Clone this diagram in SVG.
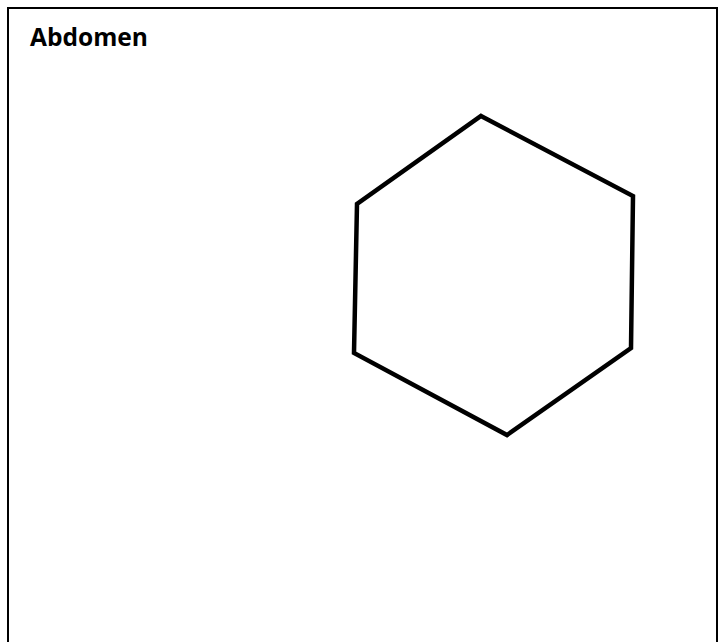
<svg xmlns="http://www.w3.org/2000/svg" width="725" height="642" viewBox="0 0 725 642">
<style>
.frame{fill:none;stroke:#000;stroke-width:2}
.hex{fill:none;stroke:#000;stroke-width:4.5;stroke-linejoin:miter}
.title{font-family:"Open Sans","Liberation Sans",sans-serif;font-weight:bold;font-size:25px;fill:#000}
</style>
<rect width="725" height="642" fill="#fff"/>
<g id="frame">
<rect class="frame" x="8" y="8" width="709" height="650"/>
<text class="title" x="30" y="46" textLength="118" lengthAdjust="spacingAndGlyphs">Abdomen</text>
</g>
<g id="hexagon">
<polygon class="hex" points="481,116 633,196 631,348 507,435 354,353 357,204"/>
</g>
</svg>
